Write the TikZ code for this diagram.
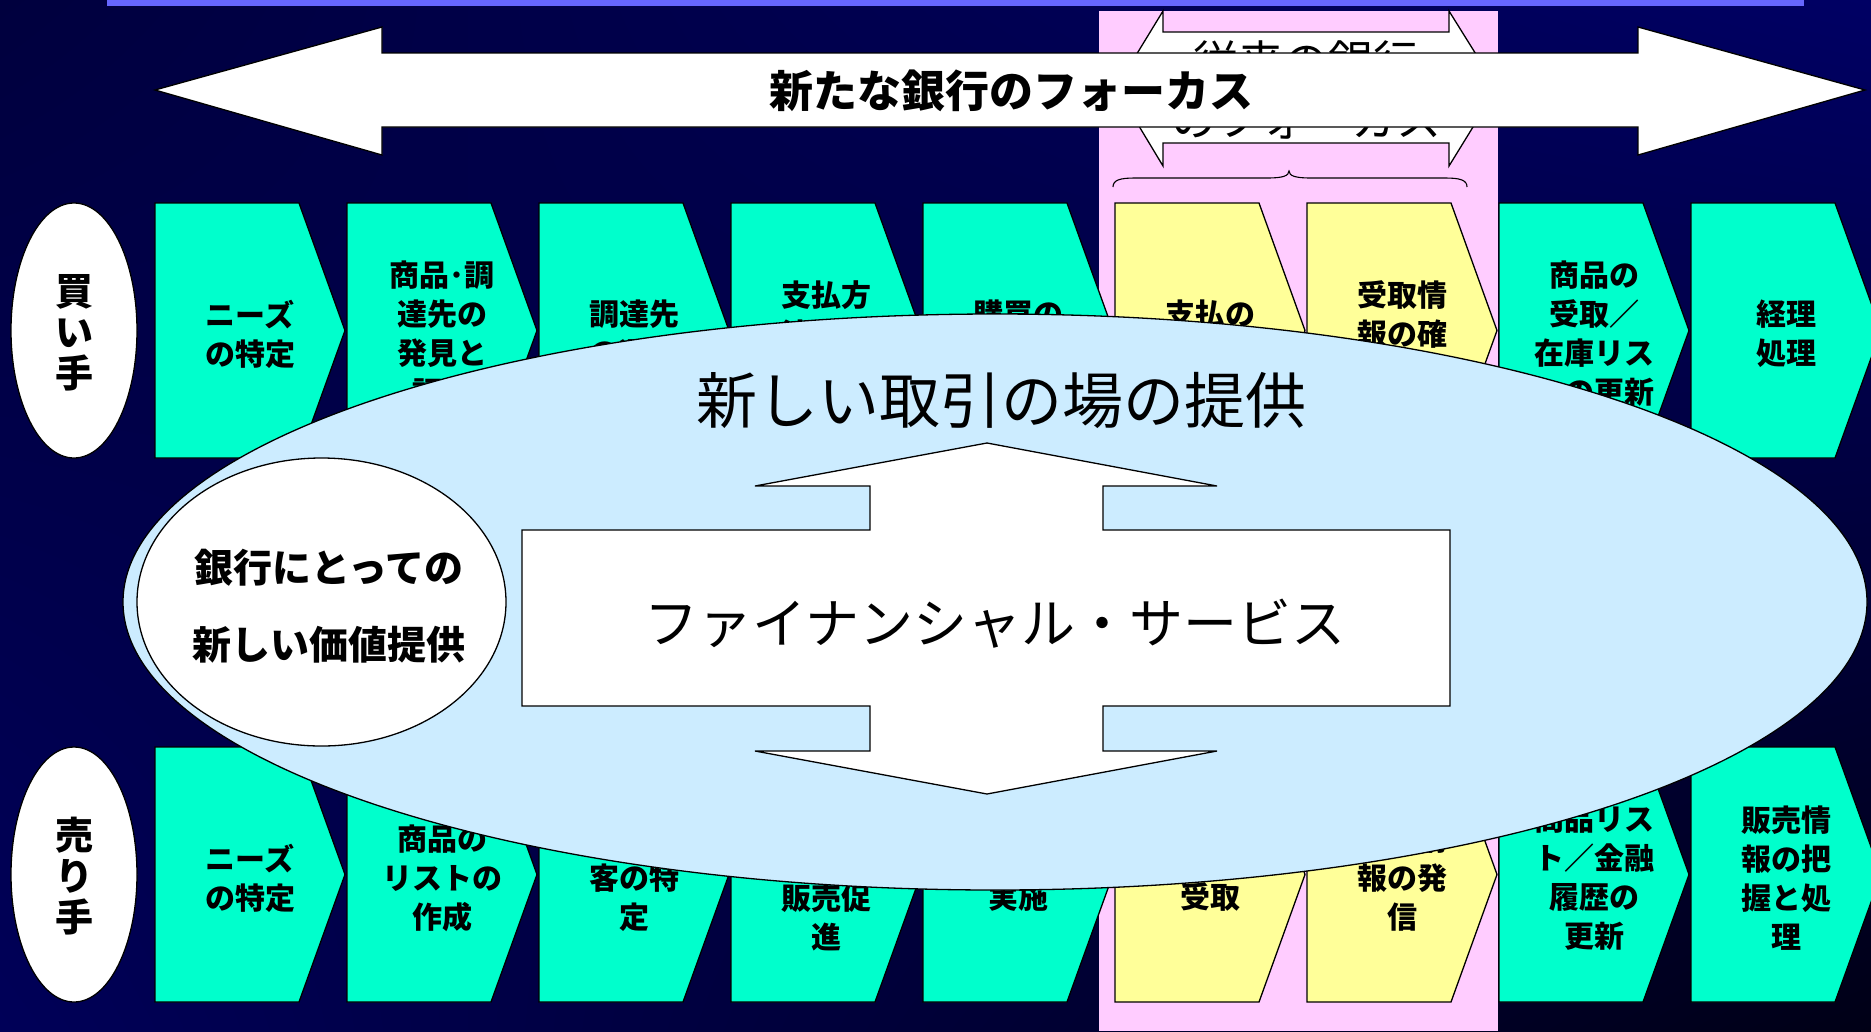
\documentclass[tikz,border=0pt]{standalone}
\usepackage{fontspec}
\setmainfont{Noto Sans CJK JP}
\usetikzlibrary{shadings}
\definecolor{bgA}{RGB}{0,0,62}
\definecolor{bgB}{RGB}{0,0,100}
\definecolor{bgC}{RGB}{0,0,88}
\definecolor{bgD}{RGB}{0,0,22}
\definecolor{topbar}{RGB}{102,102,255}
\definecolor{pinkbg}{RGB}{255,204,255}
\definecolor{boxgreen}{RGB}{0,255,204}
\definecolor{boxyellow}{RGB}{255,255,153}
\definecolor{lightblue}{RGB}{204,236,255}
\newcommand\mychev[5]{%
  \draw[#4] (#2,#3) -- ++(144,0) -- ++(46,127.5) -- ++(-46,127.5) -- ++(-144,0) -- cycle;
  \node[boxtext] (#1) at (#2+95,#3+131) {#5};
}
\begin{document}
\begin{tikzpicture}[x=1pt,y=-1pt,line join=miter]
\tikzset{
  outl/.style={draw=black, line width=1.3pt},
  greenbox/.style={outl, fill=boxgreen},
  yellowbox/.style={outl, fill=boxyellow},
  boxtext/.style={font=\bfseries\fontsize{30}{39}\selectfont, align=center, inner sep=0pt},
  sidelabel/.style={font=\bfseries\fontsize{38}{41}\selectfont, align=center, inner sep=0pt},
}
\useasboundingbox (0,0) rectangle (1871,1031);
\shade[upper left=bgA, upper right=bgB, lower left=bgC, lower right=bgD] (0,0) rectangle (1871,1031);
\fill[topbar] (107,0) rectangle (1804,6);
% pink band
\fill[pinkbg] (1099,11) rectangle (1498,1031);
% traditional focus arrow
\draw[outl, fill=white] (1116,88) -- (1163,11) -- (1163,32) -- (1449,32) -- (1449,11) -- (1497,88) -- (1449,166) -- (1449,143) -- (1163,143) -- (1163,166) -- cycle;
\node[font=\fontsize{45}{58}\selectfont, align=center, inner sep=0pt] (tradtext) at (1306,90) {従来の銀行\\のフォーカス};
% brace
\draw[line width=1.1pt] (1113,187) .. controls (1113,180) and (1120,178) .. (1135,178) -- (1268,178) .. controls (1282,178) and (1289,176) .. (1289,171) .. controls (1289,176) and (1296,178) .. (1310,178) -- (1445,178) .. controls (1460,178) and (1467,180) .. (1467,187);
% new focus arrow
\draw[outl, fill=white] (155,90) -- (382,27) -- (382,53) -- (1638,53) -- (1638,27) -- (1865,90) -- (1638,155) -- (1638,127) -- (382,127) -- (382,155) -- cycle;
\node[font=\bfseries\fontsize{44}{44}\selectfont, inner sep=0pt] (maintext) at (1011,91) {新たな銀行のフォーカス};
% buyer row
\mychev{b1}{155}{203}{greenbox}{ニーズ\\の特定}
\mychev{b2}{347}{203}{greenbox}{商品･調\\達先の\\発見と\\評価}
\mychev{b3}{539}{203}{greenbox}{調達先\\の選定}
\mychev{b4}{731}{203}{greenbox}{支払方\\法の決\\定}
\mychev{b5}{923}{203}{greenbox}{購買の\\実施}
\mychev{b6}{1115}{203}{yellowbox}{支払の\\実施}
\mychev{b7}{1307}{203}{yellowbox}{受取情\\報の確\\認}
\mychev{b8}{1499}{203}{greenbox}{商品の\\受取／\\在庫リス\\トの更新}
\mychev{b9}{1691}{203}{greenbox}{経理\\処理}
% seller row
\mychev{s1}{155}{747}{greenbox}{ニーズ\\の特定}
\mychev{s2}{347}{747}{greenbox}{商品の\\リストの\\作成}
\mychev{s3}{539}{747}{greenbox}{潜在顧\\客の特\\定}
\mychev{s4}{731}{747}{greenbox}{広告・\\宣伝と\\販売促\\進}
\mychev{s5}{923}{747}{greenbox}{販売の\\実施}
\mychev{s6}{1115}{747}{yellowbox}{支払の\\受取}
\mychev{s7}{1307}{747}{yellowbox}{発送情\\報の発\\信}
\mychev{s8}{1499}{747}{greenbox}{商品リス\\ト／金融\\履歴の\\更新}
\mychev{s9}{1691}{747}{greenbox}{販売情\\報の把\\握と処\\理}
% side ellipses
\draw[outl, fill=white] (74,330.5) ellipse [x radius=63pt, y radius=127.5pt];
\node[sidelabel] (buyer) at (74,333) {買\\い\\手};
\draw[outl, fill=white] (74,874.5) ellipse [x radius=63pt, y radius=127.5pt];
\node[sidelabel] (seller) at (74,876) {売\\り\\手};
% big ellipse
\draw[outl, fill=lightblue] (995,602) ellipse [x radius=872pt, y radius=288pt];
\node[font=\fontsize{61}{61}\selectfont, inner sep=0pt] (market) at (1001,400) {新しい取引の場の提供};
% small ellipse
\draw[outl, fill=white] (321.5,602) ellipse [x radius=184.5pt, y radius=144pt];
\node[font=\bfseries\fontsize{39}{77}\selectfont, align=center, inner sep=0pt] (value) at (329,606) {銀行にとっての\\新しい価値提供};
% vertical double arrow
\draw[outl, fill=white] (987,443) -- (1217,486) -- (1103,486) -- (1103,530) -- (1450,530) -- (1450,706) -- (1103,706) -- (1103,751) -- (1217,751) -- (987,794) -- (755,751) -- (870,751) -- (870,706) -- (522,706) -- (522,530) -- (870,530) -- (870,486) -- (755,486) -- cycle;
\node[font=\fontsize{54}{54}\selectfont, inner sep=0pt] (finsvc) at (995,624) {ファイナンシャル・サービス};
\end{tikzpicture}
\end{document}
